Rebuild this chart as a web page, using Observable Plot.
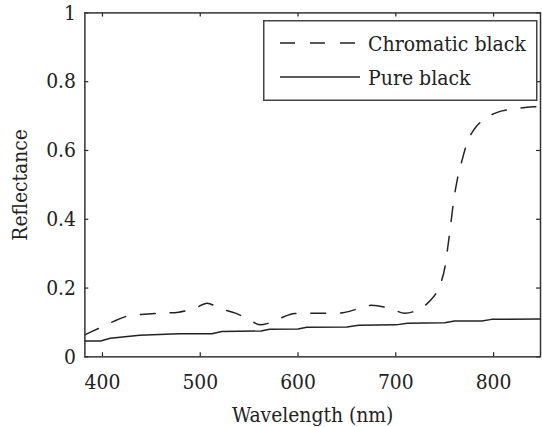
<!DOCTYPE html>
<html>
<head>
<meta charset="utf-8">
<script src="https://cdn.jsdelivr.net/npm/d3@7"></script>
<script src="https://cdn.jsdelivr.net/npm/@observablehq/plot@0.6"></script>
<style>
  html, body { margin: 0; padding: 0; background: #fff; overflow: hidden; }
  #wrap { position: relative; width: 542px; height: 427px; overflow: hidden; }
  #legend { position: absolute; left: 263px; top: 20px; }
</style>
</head>
<body>
<div id="wrap"></div>
<script>
// ---- data ----
const seriesNames = ["Chromatic black", "Pure black"];

const chromaticWl  = [382, 397, 412, 425, 443, 453, 478, 495, 507, 519, 536, 551, 561, 570, 580, 597, 620, 641, 663, 675, 695, 709, 724, 735, 745, 750, 753, 756, 759, 763, 768, 773, 780, 790, 803, 824, 841, 848];
const chromaticRef = [0.064, 0.084, 0.104, 0.118, 0.124, 0.126, 0.130, 0.142, 0.156, 0.142, 0.127, 0.107, 0.093, 0.098, 0.110, 0.126, 0.127, 0.127, 0.141, 0.150, 0.140, 0.127, 0.139, 0.163, 0.208, 0.257, 0.315, 0.381, 0.450, 0.517, 0.574, 0.623, 0.661, 0.690, 0.710, 0.722, 0.727, 0.728];

const pureWl  = [382, 398, 408, 438, 478, 512, 522, 562, 571, 600, 609, 650, 662, 700, 712, 750, 760, 788, 798, 848];
const pureRef = [0.046, 0.046, 0.054, 0.063, 0.067, 0.067, 0.074, 0.075, 0.080, 0.081, 0.086, 0.087, 0.092, 0.093, 0.098, 0.099, 0.104, 0.104, 0.109, 0.110];

const xTicks = [400, 500, 600, 700, 800];
const yTicks = [0, 0.2, 0.4, 0.6, 0.8, 1];
const xDomain = [382, 848];
const yDomain = [0, 1];
const xLabel = "Wavelength (nm)";
const yLabel = "Reflectance";

// ---- build ----
const chromatic = chromaticWl.map((w, i) => ({w, r: chromaticRef[i]}));
const pure = pureWl.map((w, i) => ({w, r: pureRef[i]}));

const ink = "#222";
const FONT = "'DejaVu Serif Condensed', 'DejaVu Serif', serif";
const FS = 21;
const xTickLen = 4, yTickLen = 0.012;

const chart = Plot.plot({
  width: 546,
  height: 427,
  marginLeft: 85,
  marginTop: 12.5,
  marginBottom: 68,
  marginRight: 2,
  style: {fontFamily: FONT, fontSize: FS + "px", fontStretch: "condensed", color: ink, background: "#fff", overflow: "visible"},
  x: {domain: xDomain},
  y: {domain: yDomain},
  marks: [
    Plot.line(chromatic, {x: "w", y: "r", stroke: ink, strokeWidth: 1.5, strokeDasharray: "15,15", curve: "monotone-x"}),
    Plot.line(pure, {x: "w", y: "r", stroke: ink, strokeWidth: 1.5}),
    // inward ticks
    Plot.ruleX(xTicks, {x: d => d, y1: yDomain[0], y2: yDomain[0] + yTickLen, stroke: ink, strokeWidth: 1.2}),
    Plot.ruleX(xTicks, {x: d => d, y1: yDomain[1], y2: yDomain[1] - yTickLen, stroke: ink, strokeWidth: 1.2}),
    Plot.ruleY(yTicks, {y: d => d, x1: xDomain[0], x2: xDomain[0] + xTickLen, stroke: ink, strokeWidth: 1.2}),
    Plot.ruleY(yTicks, {y: d => d, x1: xDomain[1], x2: xDomain[1] - xTickLen, stroke: ink, strokeWidth: 1.2}),
    Plot.frame({stroke: "#333", strokeWidth: 1.5}),
    Plot.axisX(xTicks, {tickSize: 0, tickPadding: 17, fontSize: FS, label: xLabel, labelAnchor: "center", labelArrow: false, labelOffset: 66}),
    Plot.axisY(yTicks, {tickSize: 0, tickPadding: 9, fontSize: FS, tickFormat: d => String(d), label: yLabel, labelAnchor: "center", labelArrow: false, labelOffset: 73})
  ]
});
document.getElementById("wrap").appendChild(chart);

// ---- legend ----
const lg = d3.create("svg").attr("id", "legend").attr("width", 275).attr("height", 82)
  .style("font-family", FONT).style("font-size", FS + "px").style("font-stretch", "condensed");
lg.append("rect").attr("x", 0.75).attr("y", 0.75).attr("width", 273).attr("height", 79.5)
  .attr("fill", "#fff").attr("stroke", "#444").attr("stroke-width", 1.5);
const dashes = ["15,15", null];
const rowY = [23, 57];
seriesNames.forEach((name, i) => {
  lg.append("line").attr("x1", 17).attr("x2", 97).attr("y1", rowY[i]).attr("y2", rowY[i])
    .attr("stroke", ink).attr("stroke-width", 1.5).attr("stroke-dasharray", dashes[i]);
  lg.append("text").attr("x", 105).attr("y", rowY[i] + 7.5).attr("fill", ink).text(name);
});
document.getElementById("wrap").appendChild(lg.node());
</script>
</body>
</html>
